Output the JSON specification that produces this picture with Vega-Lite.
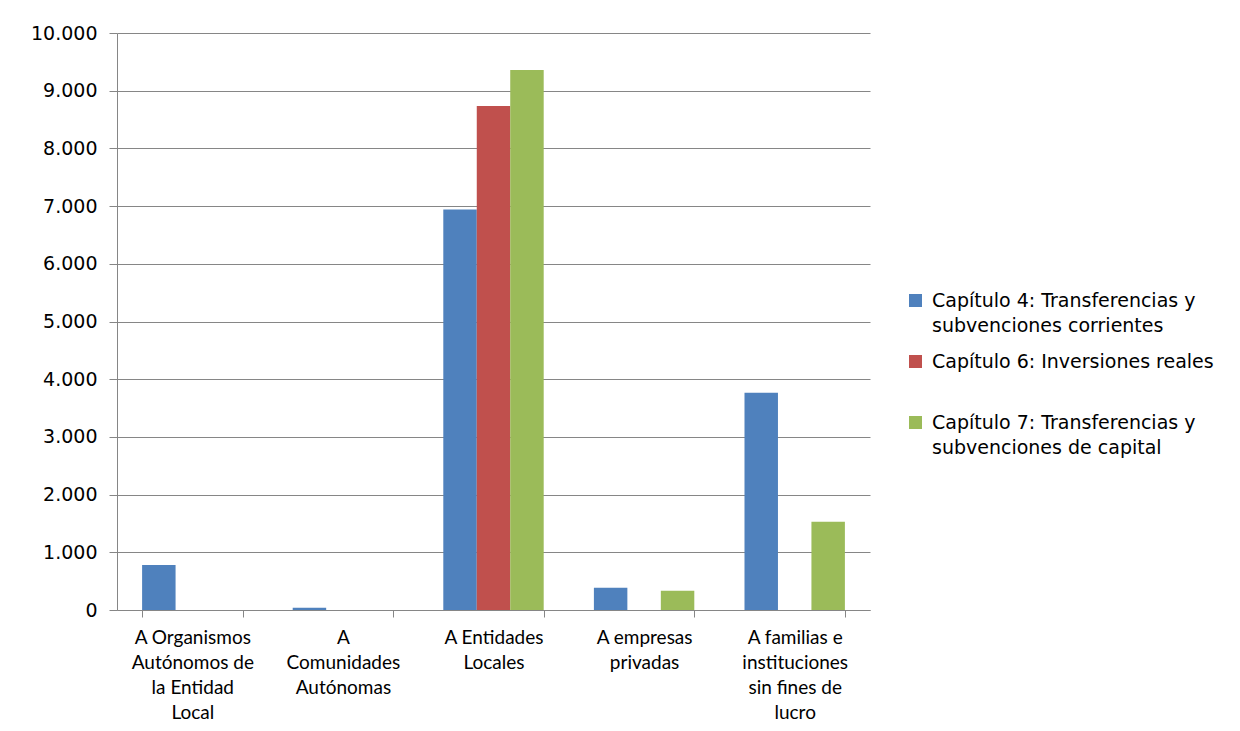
{
  "$schema": "https://vega.github.io/schema/vega-lite/v6.json",
  "width": 753,
  "height": 577,
  "padding": {"left": 30, "top": 24, "right": 5, "bottom": 5},
  "background": "white",
  "data": {
    "values": [
      {"destino": "A Organismos|Autónomos de|la Entidad|Local", "capitulo": "Capítulo 4: Transferencias y|subvenciones corrientes", "valor": 780},
      {"destino": "A|Comunidades|Autónomas", "capitulo": "Capítulo 4: Transferencias y|subvenciones corrientes", "valor": 40},
      {"destino": "A Entidades|Locales", "capitulo": "Capítulo 4: Transferencias y|subvenciones corrientes", "valor": 6940},
      {"destino": "A Entidades|Locales", "capitulo": "Capítulo 6: Inversiones reales|", "valor": 8735},
      {"destino": "A Entidades|Locales", "capitulo": "Capítulo 7: Transferencias y|subvenciones de capital", "valor": 9360},
      {"destino": "A empresas|privadas", "capitulo": "Capítulo 4: Transferencias y|subvenciones corrientes", "valor": 385},
      {"destino": "A empresas|privadas", "capitulo": "Capítulo 7: Transferencias y|subvenciones de capital", "valor": 335},
      {"destino": "A familias e|instituciones|sin fines de|lucro", "capitulo": "Capítulo 4: Transferencias y|subvenciones corrientes", "valor": 3765},
      {"destino": "A familias e|instituciones|sin fines de|lucro", "capitulo": "Capítulo 7: Transferencias y|subvenciones de capital", "valor": 1530}
    ]
  },
  "mark": {"type": "bar"},
  "encoding": {
    "x": {
      "field": "destino",
      "type": "nominal",
      "sort": null,
      "title": null,
      "scale": {"paddingInner": 0.3333, "paddingOuter": 0.1667},
      "axis": {
        "labelAngle": 0,
        "labelExpr": "split(datum.label, '|')",
        "labelFont": "Lato",
        "labelFontSize": 19,
        "labelColor": "#000000",
        "labelLineHeight": 25,
        "labelPadding": 11,
        "labelLimit": 200,
        "tickBand": "extent",
        "tickSize": 7,
        "tickColor": "#868686",
        "domainColor": "#868686",
        "grid": false
      }
    },
    "xOffset": {
      "field": "capitulo",
      "type": "nominal",
      "sort": null,
      "scale": {"domain": ["Capítulo 4: Transferencias y|subvenciones corrientes", "Capítulo 6: Inversiones reales|", "Capítulo 7: Transferencias y|subvenciones de capital"], "paddingInner": 0, "paddingOuter": 0}
    },
    "y": {
      "field": "valor",
      "type": "quantitative",
      "title": null,
      "scale": {"domain": [0, 10000], "nice": false},
      "axis": {
        "values": [0, 1000, 2000, 3000, 4000, 5000, 6000, 7000, 8000, 9000, 10000],
        "labelExpr": "replace(format(datum.value, ','), ',', '.')",
        "labelFont": "DejaVu Sans",
        "labelFontSize": 19,
        "labelColor": "#000000",
        "labelPadding": 12,
        "tickSize": 8,
        "tickColor": "#868686",
        "domain": true,
        "domainColor": "#868686",
        "gridColor": "#868686",
        "gridWidth": 1
      }
    },
    "color": {
      "field": "capitulo",
      "type": "nominal",
      "sort": null,
      "scale": {
        "domain": ["Capítulo 4: Transferencias y|subvenciones corrientes", "Capítulo 6: Inversiones reales|", "Capítulo 7: Transferencias y|subvenciones de capital"],
        "range": ["#4F81BD", "#C0504D", "#9BBB59"]
      },
      "legend": {
        "title": null,
        "orient": "none",
        "legendX": 789,
        "legendY": 258,
        "labelExpr": "split(datum.label, '|')",
        "labelFont": "DejaVu Sans",
        "labelFontSize": 19,
        "labelColor": "#000000",
        "labelLimit": 400,
        "symbolType": "square",
        "symbolSize": 169,
        "symbolStrokeWidth": 0,
        "symbolOpacity": 1,
        "rowPadding": 16,
        "labelOffset": 7
      }
    }
  },
  "config": {
    "view": {"stroke": null},
    "axis": {"ticks": true},
    "style": {"guide-label": {"lineHeight": 25}}
  }
}
